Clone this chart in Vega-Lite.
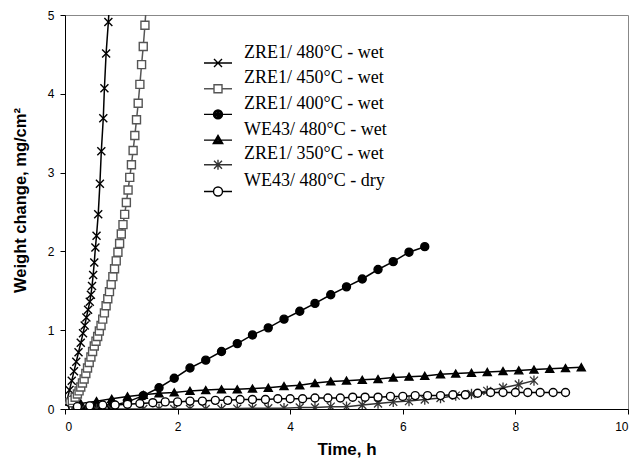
{
  "$schema": "https://vega.github.io/schema/vega-lite/v6.json",
  "width": 563,
  "height": 394,
  "autosize": "none",
  "padding": {"left": 65, "top": 15, "right": 8, "bottom": 56},
  "background": "white",
  "config": {
    "view": {"stroke": "#888888", "strokeWidth": 1},
    "axis": {"grid": false, "domainColor": "black", "tickColor": "black", "labelColor": "black", "titleColor": "black", "labelFont": "Liberation Sans", "labelFontSize": 12, "titleFont": "Liberation Sans", "titleFontWeight": "bold", "tickSize": 5, "domainWidth": 1, "tickWidth": 1, "format": "d"},
    "legend": {"title": null, "orient": "none", "legendX": 144, "legendY": 33.5, "padding": 0, "labelFont": "Liberation Serif", "labelFontSize": 18, "labelColor": "black", "labelLimit": 300, "symbolSize": 100, "symbolStrokeWidth": 1.4, "symbolOpacity": 1, "labelOffset": 17, "rowPadding": -1.3, "labelBaseline": "alphabetic"}
  },
  "data": {"values": [
    {"s": "ZRE1/ 480°C - wet", "x": 0, "y": 0},
    {"s": "ZRE1/ 480°C - wet", "x": 0.04, "y": 0.12},
    {"s": "ZRE1/ 480°C - wet", "x": 0.08, "y": 0.24},
    {"s": "ZRE1/ 480°C - wet", "x": 0.12, "y": 0.36},
    {"s": "ZRE1/ 480°C - wet", "x": 0.16, "y": 0.48},
    {"s": "ZRE1/ 480°C - wet", "x": 0.2, "y": 0.6},
    {"s": "ZRE1/ 480°C - wet", "x": 0.24, "y": 0.72},
    {"s": "ZRE1/ 480°C - wet", "x": 0.28, "y": 0.84},
    {"s": "ZRE1/ 480°C - wet", "x": 0.32, "y": 0.96},
    {"s": "ZRE1/ 480°C - wet", "x": 0.35, "y": 1.06},
    {"s": "ZRE1/ 480°C - wet", "x": 0.38, "y": 1.16},
    {"s": "ZRE1/ 480°C - wet", "x": 0.41, "y": 1.26},
    {"s": "ZRE1/ 480°C - wet", "x": 0.44, "y": 1.36},
    {"s": "ZRE1/ 480°C - wet", "x": 0.46, "y": 1.45},
    {"s": "ZRE1/ 480°C - wet", "x": 0.48, "y": 1.56},
    {"s": "ZRE1/ 480°C - wet", "x": 0.5, "y": 1.7},
    {"s": "ZRE1/ 480°C - wet", "x": 0.52, "y": 1.86},
    {"s": "ZRE1/ 480°C - wet", "x": 0.54, "y": 2.05},
    {"s": "ZRE1/ 480°C - wet", "x": 0.56, "y": 2.2},
    {"s": "ZRE1/ 480°C - wet", "x": 0.59, "y": 2.47},
    {"s": "ZRE1/ 480°C - wet", "x": 0.62, "y": 2.86},
    {"s": "ZRE1/ 480°C - wet", "x": 0.645, "y": 3.27},
    {"s": "ZRE1/ 480°C - wet", "x": 0.68, "y": 3.69},
    {"s": "ZRE1/ 480°C - wet", "x": 0.7, "y": 4.07},
    {"s": "ZRE1/ 480°C - wet", "x": 0.73, "y": 4.51},
    {"s": "ZRE1/ 480°C - wet", "x": 0.77, "y": 4.91},
    {"s": "ZRE1/ 480°C - wet", "x": 0.81, "y": 5.4},
    {"s": "ZRE1/ 450°C - wet", "x": 0, "y": 0},
    {"s": "ZRE1/ 450°C - wet", "x": 0.05, "y": 0.04},
    {"s": "ZRE1/ 450°C - wet", "x": 0.09, "y": 0.08},
    {"s": "ZRE1/ 450°C - wet", "x": 0.13, "y": 0.11},
    {"s": "ZRE1/ 450°C - wet", "x": 0.18, "y": 0.15},
    {"s": "ZRE1/ 450°C - wet", "x": 0.22, "y": 0.19},
    {"s": "ZRE1/ 450°C - wet", "x": 0.25, "y": 0.23},
    {"s": "ZRE1/ 450°C - wet", "x": 0.28, "y": 0.28},
    {"s": "ZRE1/ 450°C - wet", "x": 0.31, "y": 0.33},
    {"s": "ZRE1/ 450°C - wet", "x": 0.34, "y": 0.38},
    {"s": "ZRE1/ 450°C - wet", "x": 0.37, "y": 0.45},
    {"s": "ZRE1/ 450°C - wet", "x": 0.4, "y": 0.52},
    {"s": "ZRE1/ 450°C - wet", "x": 0.43, "y": 0.59},
    {"s": "ZRE1/ 450°C - wet", "x": 0.46, "y": 0.66},
    {"s": "ZRE1/ 450°C - wet", "x": 0.49, "y": 0.73},
    {"s": "ZRE1/ 450°C - wet", "x": 0.52, "y": 0.8},
    {"s": "ZRE1/ 450°C - wet", "x": 0.55, "y": 0.86},
    {"s": "ZRE1/ 450°C - wet", "x": 0.58, "y": 0.92},
    {"s": "ZRE1/ 450°C - wet", "x": 0.61, "y": 0.99},
    {"s": "ZRE1/ 450°C - wet", "x": 0.64, "y": 1.06},
    {"s": "ZRE1/ 450°C - wet", "x": 0.67, "y": 1.14},
    {"s": "ZRE1/ 450°C - wet", "x": 0.7, "y": 1.22},
    {"s": "ZRE1/ 450°C - wet", "x": 0.73, "y": 1.31},
    {"s": "ZRE1/ 450°C - wet", "x": 0.76, "y": 1.4},
    {"s": "ZRE1/ 450°C - wet", "x": 0.79, "y": 1.49},
    {"s": "ZRE1/ 450°C - wet", "x": 0.82, "y": 1.58},
    {"s": "ZRE1/ 450°C - wet", "x": 0.85, "y": 1.68},
    {"s": "ZRE1/ 450°C - wet", "x": 0.88, "y": 1.78},
    {"s": "ZRE1/ 450°C - wet", "x": 0.91, "y": 1.88},
    {"s": "ZRE1/ 450°C - wet", "x": 0.94, "y": 1.99},
    {"s": "ZRE1/ 450°C - wet", "x": 0.97, "y": 2.1},
    {"s": "ZRE1/ 450°C - wet", "x": 1.0, "y": 2.22},
    {"s": "ZRE1/ 450°C - wet", "x": 1.03, "y": 2.34},
    {"s": "ZRE1/ 450°C - wet", "x": 1.06, "y": 2.47},
    {"s": "ZRE1/ 450°C - wet", "x": 1.09, "y": 2.62},
    {"s": "ZRE1/ 450°C - wet", "x": 1.12, "y": 2.78},
    {"s": "ZRE1/ 450°C - wet", "x": 1.15, "y": 2.94},
    {"s": "ZRE1/ 450°C - wet", "x": 1.18, "y": 3.1},
    {"s": "ZRE1/ 450°C - wet", "x": 1.21, "y": 3.28},
    {"s": "ZRE1/ 450°C - wet", "x": 1.24, "y": 3.47},
    {"s": "ZRE1/ 450°C - wet", "x": 1.27, "y": 3.67},
    {"s": "ZRE1/ 450°C - wet", "x": 1.3, "y": 3.88},
    {"s": "ZRE1/ 450°C - wet", "x": 1.33, "y": 4.12},
    {"s": "ZRE1/ 450°C - wet", "x": 1.36, "y": 4.37},
    {"s": "ZRE1/ 450°C - wet", "x": 1.39, "y": 4.6},
    {"s": "ZRE1/ 450°C - wet", "x": 1.42, "y": 4.87},
    {"s": "ZRE1/ 450°C - wet", "x": 1.46, "y": 5.3},
    {"s": "ZRE1/ 400°C - wet", "x": 0, "y": 0},
    {"s": "ZRE1/ 400°C - wet", "x": 0.28, "y": 0.0},
    {"s": "ZRE1/ 400°C - wet", "x": 0.56, "y": 0.02},
    {"s": "ZRE1/ 400°C - wet", "x": 0.83, "y": 0.04},
    {"s": "ZRE1/ 400°C - wet", "x": 1.11, "y": 0.09},
    {"s": "ZRE1/ 400°C - wet", "x": 1.39, "y": 0.17},
    {"s": "ZRE1/ 400°C - wet", "x": 1.67, "y": 0.27},
    {"s": "ZRE1/ 400°C - wet", "x": 1.94, "y": 0.39},
    {"s": "ZRE1/ 400°C - wet", "x": 2.22, "y": 0.52},
    {"s": "ZRE1/ 400°C - wet", "x": 2.5, "y": 0.62},
    {"s": "ZRE1/ 400°C - wet", "x": 2.78, "y": 0.73},
    {"s": "ZRE1/ 400°C - wet", "x": 3.06, "y": 0.83},
    {"s": "ZRE1/ 400°C - wet", "x": 3.33, "y": 0.94},
    {"s": "ZRE1/ 400°C - wet", "x": 3.61, "y": 1.03},
    {"s": "ZRE1/ 400°C - wet", "x": 3.89, "y": 1.14},
    {"s": "ZRE1/ 400°C - wet", "x": 4.17, "y": 1.24},
    {"s": "ZRE1/ 400°C - wet", "x": 4.44, "y": 1.34},
    {"s": "ZRE1/ 400°C - wet", "x": 4.72, "y": 1.45},
    {"s": "ZRE1/ 400°C - wet", "x": 5.0, "y": 1.55},
    {"s": "ZRE1/ 400°C - wet", "x": 5.28, "y": 1.65},
    {"s": "ZRE1/ 400°C - wet", "x": 5.56, "y": 1.77},
    {"s": "ZRE1/ 400°C - wet", "x": 5.83, "y": 1.87},
    {"s": "ZRE1/ 400°C - wet", "x": 6.11, "y": 1.99},
    {"s": "ZRE1/ 400°C - wet", "x": 6.39, "y": 2.06},
    {"s": "WE43/ 480°C - wet", "x": 0, "y": 0},
    {"s": "WE43/ 480°C - wet", "x": 0.28, "y": 0.07},
    {"s": "WE43/ 480°C - wet", "x": 0.56, "y": 0.1},
    {"s": "WE43/ 480°C - wet", "x": 0.83, "y": 0.13},
    {"s": "WE43/ 480°C - wet", "x": 1.11, "y": 0.16},
    {"s": "WE43/ 480°C - wet", "x": 1.39, "y": 0.18},
    {"s": "WE43/ 480°C - wet", "x": 1.67, "y": 0.2},
    {"s": "WE43/ 480°C - wet", "x": 1.94, "y": 0.21},
    {"s": "WE43/ 480°C - wet", "x": 2.22, "y": 0.23},
    {"s": "WE43/ 480°C - wet", "x": 2.5, "y": 0.24},
    {"s": "WE43/ 480°C - wet", "x": 2.78, "y": 0.25},
    {"s": "WE43/ 480°C - wet", "x": 3.06, "y": 0.25},
    {"s": "WE43/ 480°C - wet", "x": 3.33, "y": 0.26},
    {"s": "WE43/ 480°C - wet", "x": 3.61, "y": 0.27},
    {"s": "WE43/ 480°C - wet", "x": 3.89, "y": 0.29},
    {"s": "WE43/ 480°C - wet", "x": 4.17, "y": 0.3},
    {"s": "WE43/ 480°C - wet", "x": 4.44, "y": 0.33},
    {"s": "WE43/ 480°C - wet", "x": 4.72, "y": 0.35},
    {"s": "WE43/ 480°C - wet", "x": 5.0, "y": 0.36},
    {"s": "WE43/ 480°C - wet", "x": 5.28, "y": 0.37},
    {"s": "WE43/ 480°C - wet", "x": 5.56, "y": 0.38},
    {"s": "WE43/ 480°C - wet", "x": 5.83, "y": 0.4},
    {"s": "WE43/ 480°C - wet", "x": 6.11, "y": 0.41},
    {"s": "WE43/ 480°C - wet", "x": 6.39, "y": 0.42},
    {"s": "WE43/ 480°C - wet", "x": 6.67, "y": 0.44},
    {"s": "WE43/ 480°C - wet", "x": 6.94, "y": 0.45},
    {"s": "WE43/ 480°C - wet", "x": 7.22, "y": 0.46},
    {"s": "WE43/ 480°C - wet", "x": 7.5, "y": 0.47},
    {"s": "WE43/ 480°C - wet", "x": 7.78, "y": 0.48},
    {"s": "WE43/ 480°C - wet", "x": 8.06, "y": 0.49},
    {"s": "WE43/ 480°C - wet", "x": 8.33, "y": 0.5},
    {"s": "WE43/ 480°C - wet", "x": 8.61, "y": 0.51},
    {"s": "WE43/ 480°C - wet", "x": 8.89, "y": 0.52},
    {"s": "WE43/ 480°C - wet", "x": 9.17, "y": 0.53},
    {"s": "ZRE1/ 350°C - wet", "x": 0, "y": 0},
    {"s": "ZRE1/ 350°C - wet", "x": 0.28, "y": 0},
    {"s": "ZRE1/ 350°C - wet", "x": 0.56, "y": 0},
    {"s": "ZRE1/ 350°C - wet", "x": 0.83, "y": 0},
    {"s": "ZRE1/ 350°C - wet", "x": 1.11, "y": 0},
    {"s": "ZRE1/ 350°C - wet", "x": 1.39, "y": 0},
    {"s": "ZRE1/ 350°C - wet", "x": 1.67, "y": 0},
    {"s": "ZRE1/ 350°C - wet", "x": 1.94, "y": 0},
    {"s": "ZRE1/ 350°C - wet", "x": 2.22, "y": 0},
    {"s": "ZRE1/ 350°C - wet", "x": 2.5, "y": 0},
    {"s": "ZRE1/ 350°C - wet", "x": 2.78, "y": 0},
    {"s": "ZRE1/ 350°C - wet", "x": 3.06, "y": 0.005},
    {"s": "ZRE1/ 350°C - wet", "x": 3.33, "y": 0.01},
    {"s": "ZRE1/ 350°C - wet", "x": 3.61, "y": 0.01},
    {"s": "ZRE1/ 350°C - wet", "x": 3.89, "y": 0.01},
    {"s": "ZRE1/ 350°C - wet", "x": 4.17, "y": 0.02},
    {"s": "ZRE1/ 350°C - wet", "x": 4.44, "y": 0.02},
    {"s": "ZRE1/ 350°C - wet", "x": 4.72, "y": 0.03},
    {"s": "ZRE1/ 350°C - wet", "x": 5.0, "y": 0.03},
    {"s": "ZRE1/ 350°C - wet", "x": 5.28, "y": 0.05},
    {"s": "ZRE1/ 350°C - wet", "x": 5.56, "y": 0.07},
    {"s": "ZRE1/ 350°C - wet", "x": 5.83, "y": 0.09},
    {"s": "ZRE1/ 350°C - wet", "x": 6.11, "y": 0.1},
    {"s": "ZRE1/ 350°C - wet", "x": 6.39, "y": 0.12},
    {"s": "ZRE1/ 350°C - wet", "x": 6.67, "y": 0.14},
    {"s": "ZRE1/ 350°C - wet", "x": 6.94, "y": 0.17},
    {"s": "ZRE1/ 350°C - wet", "x": 7.22, "y": 0.19},
    {"s": "ZRE1/ 350°C - wet", "x": 7.5, "y": 0.23},
    {"s": "ZRE1/ 350°C - wet", "x": 7.78, "y": 0.27},
    {"s": "ZRE1/ 350°C - wet", "x": 8.06, "y": 0.31},
    {"s": "ZRE1/ 350°C - wet", "x": 8.33, "y": 0.36},
    {"s": "WE43/ 480°C - dry", "x": 0, "y": 0},
    {"s": "WE43/ 480°C - dry", "x": 0.22, "y": 0.03},
    {"s": "WE43/ 480°C - dry", "x": 0.44, "y": 0.04},
    {"s": "WE43/ 480°C - dry", "x": 0.67, "y": 0.05},
    {"s": "WE43/ 480°C - dry", "x": 0.89, "y": 0.05},
    {"s": "WE43/ 480°C - dry", "x": 1.11, "y": 0.06},
    {"s": "WE43/ 480°C - dry", "x": 1.33, "y": 0.07},
    {"s": "WE43/ 480°C - dry", "x": 1.56, "y": 0.08},
    {"s": "WE43/ 480°C - dry", "x": 1.78, "y": 0.09},
    {"s": "WE43/ 480°C - dry", "x": 2.0, "y": 0.09},
    {"s": "WE43/ 480°C - dry", "x": 2.22, "y": 0.1},
    {"s": "WE43/ 480°C - dry", "x": 2.44, "y": 0.1},
    {"s": "WE43/ 480°C - dry", "x": 2.67, "y": 0.11},
    {"s": "WE43/ 480°C - dry", "x": 2.89, "y": 0.11},
    {"s": "WE43/ 480°C - dry", "x": 3.11, "y": 0.12},
    {"s": "WE43/ 480°C - dry", "x": 3.33, "y": 0.12},
    {"s": "WE43/ 480°C - dry", "x": 3.56, "y": 0.12},
    {"s": "WE43/ 480°C - dry", "x": 3.78, "y": 0.13},
    {"s": "WE43/ 480°C - dry", "x": 4.0, "y": 0.13},
    {"s": "WE43/ 480°C - dry", "x": 4.22, "y": 0.13},
    {"s": "WE43/ 480°C - dry", "x": 4.44, "y": 0.14},
    {"s": "WE43/ 480°C - dry", "x": 4.67, "y": 0.14},
    {"s": "WE43/ 480°C - dry", "x": 4.89, "y": 0.14},
    {"s": "WE43/ 480°C - dry", "x": 5.11, "y": 0.15},
    {"s": "WE43/ 480°C - dry", "x": 5.33, "y": 0.15},
    {"s": "WE43/ 480°C - dry", "x": 5.56, "y": 0.15},
    {"s": "WE43/ 480°C - dry", "x": 5.78, "y": 0.16},
    {"s": "WE43/ 480°C - dry", "x": 6.0, "y": 0.16},
    {"s": "WE43/ 480°C - dry", "x": 6.22, "y": 0.17},
    {"s": "WE43/ 480°C - dry", "x": 6.44, "y": 0.17},
    {"s": "WE43/ 480°C - dry", "x": 6.67, "y": 0.17},
    {"s": "WE43/ 480°C - dry", "x": 6.89, "y": 0.18},
    {"s": "WE43/ 480°C - dry", "x": 7.11, "y": 0.18},
    {"s": "WE43/ 480°C - dry", "x": 7.33, "y": 0.2},
    {"s": "WE43/ 480°C - dry", "x": 7.56, "y": 0.21},
    {"s": "WE43/ 480°C - dry", "x": 7.78, "y": 0.21},
    {"s": "WE43/ 480°C - dry", "x": 8.0, "y": 0.21},
    {"s": "WE43/ 480°C - dry", "x": 8.22, "y": 0.21},
    {"s": "WE43/ 480°C - dry", "x": 8.44, "y": 0.21},
    {"s": "WE43/ 480°C - dry", "x": 8.67, "y": 0.21},
    {"s": "WE43/ 480°C - dry", "x": 8.89, "y": 0.21}
  ]},
  "encoding": {
    "x": {"field": "x", "type": "quantitative", "scale": {"domain": [0, 10], "nice": false}, "axis": {"title": "Time, h", "values": [0, 2, 4, 6, 8, 10], "titleFontSize": 17, "titleY": 40, "titleBaseline": "middle", "labelPadding": 7}},
    "y": {"field": "y", "type": "quantitative", "scale": {"domain": [0, 5], "nice": false}, "axis": {"title": "Weight change, mg/cm²", "values": [0, 1, 2, 3, 4, 5], "titleFontSize": 16.5, "titleX": -45, "titleY": 185, "titleAngle": 270, "titleAlign": "center", "titleBaseline": "middle", "labelPadding": 6}}
  },
  "layer": [
    {
      "mark": {"type": "line", "clip": true, "strokeWidth": 1.5},
      "encoding": {
        "stroke": {"field": "s", "type": "nominal", "scale": {"domain": ["ZRE1/ 480°C - wet", "ZRE1/ 450°C - wet", "ZRE1/ 400°C - wet", "WE43/ 480°C - wet", "ZRE1/ 350°C - wet", "WE43/ 480°C - dry"], "range": ["black", "#555555", "black", "black", "#333333", "black"]}}
      }
    },
    {
      "transform": [{"filter": {"field": "s", "equal": "ZRE1/ 480°C - wet"}}],
      "mark": {"type": "point", "clip": true, "opacity": 1, "size": 64, "strokeWidth": 1.4, "shape": "M-1,-1L1,1M-1,1L1,-1", "filled": false, "stroke": "black"}
    },
    {
      "transform": [{"filter": {"field": "s", "equal": "ZRE1/ 450°C - wet"}}],
      "mark": {"type": "point", "clip": true, "opacity": 1, "size": 64, "strokeWidth": 1.4, "shape": "square", "filled": true, "fill": "white", "stroke": "#555555"}
    },
    {
      "transform": [{"filter": {"field": "s", "equal": "ZRE1/ 400°C - wet"}}],
      "mark": {"type": "point", "clip": true, "opacity": 1, "size": 64, "strokeWidth": 1.4, "shape": "circle", "filled": true, "fill": "black", "stroke": "black"}
    },
    {
      "transform": [{"filter": {"field": "s", "equal": "WE43/ 480°C - wet"}}],
      "mark": {"type": "point", "clip": true, "opacity": 1, "size": 64, "strokeWidth": 1.4, "shape": "triangle-up", "filled": true, "fill": "black", "stroke": "black"}
    },
    {
      "transform": [{"filter": {"field": "s", "equal": "ZRE1/ 350°C - wet"}}],
      "mark": {"type": "point", "clip": true, "opacity": 1, "size": 64, "strokeWidth": 1.3, "shape": "M-1,-1L1,1M-1,1L1,-1M0,-1.3L0,1.3", "filled": false, "stroke": "#333333"}
    },
    {
      "transform": [{"filter": {"field": "s", "equal": "WE43/ 480°C - dry"}}],
      "mark": {"type": "point", "clip": true, "opacity": 1, "size": 64, "strokeWidth": 1.4, "shape": "circle", "filled": true, "fill": "white", "stroke": "black"}
    },
    {
      "transform": [{"filter": "datum.x < 0"}],
      "mark": {"type": "point", "opacity": 1, "filled": false, "strokeWidth": 1.4},
      "encoding": {
        "shape": {"field": "s", "type": "nominal", "scale": {"domain": ["ZRE1/ 480°C - wet", "ZRE1/ 450°C - wet", "ZRE1/ 400°C - wet", "WE43/ 480°C - wet", "ZRE1/ 350°C - wet", "WE43/ 480°C - dry"], "range": [
          "M-2.8,1.1L2.8,1.1M-0.8,0.3L0.8,1.9M-0.8,1.9L0.8,0.3",
          "M-2.8,1.1L-0.8,1.1M0.8,1.1L2.8,1.1M-0.8,0.3L0.8,0.3L0.8,1.9L-0.8,1.9Z",
          "M-2.8,1.1L2.8,1.1M-0.9,1.1A0.9,0.9 0 1,1 0.9,1.1A0.9,0.9 0 1,1 -0.9,1.1ZM-0.62,1.1A0.62,0.62 0 1,1 0.62,1.1A0.62,0.62 0 1,1 -0.62,1.1ZM-0.34,1.1A0.34,0.34 0 1,1 0.34,1.1A0.34,0.34 0 1,1 -0.34,1.1ZM-0.08,1.1A0.08,0.08 0 1,1 0.08,1.1A0.08,0.08 0 1,1 -0.08,1.1Z",
          "M-2.8,1.1L2.8,1.1M0,0.15L0.95,1.8L-0.95,1.8ZM0,0.52L0.63,1.61L-0.63,1.61ZM0,0.89L0.31,1.43L-0.31,1.43Z",
          "M-2.8,1.1L2.8,1.1M-0.8,0.3L0.8,1.9M-0.8,1.9L0.8,0.3M0,0.1L0,2.1",
          "M-2.8,1.1L-0.9,1.1M0.9,1.1L2.8,1.1M-0.9,1.1A0.9,0.9 0 1,1 0.9,1.1A0.9,0.9 0 1,1 -0.9,1.1Z"
        ]}},
        "stroke": {"field": "s", "type": "nominal"}
      }
    }
  ]
}
